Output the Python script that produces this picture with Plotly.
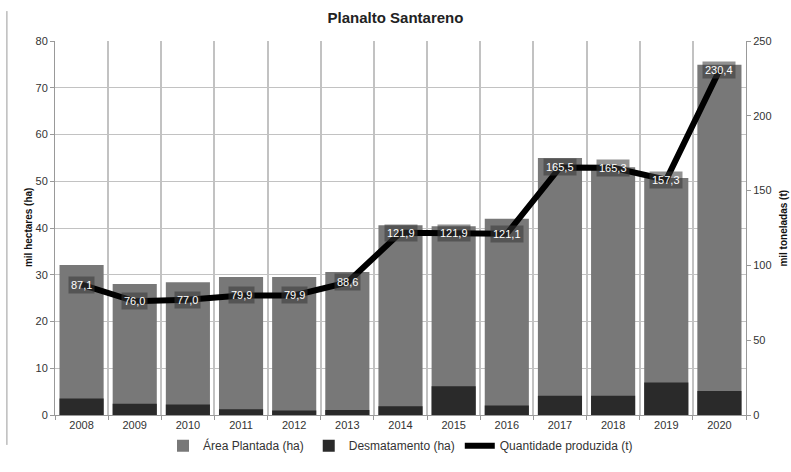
import plotly.graph_objects as go

# Planalto Santareno: planted area, deforestation and production by year
anos = ["2008", "2009", "2010", "2011", "2012", "2013", "2014",
        "2015", "2016", "2017", "2018", "2019", "2020"]
area_plantada = [32.1, 28.0, 28.4, 29.5, 29.5, 30.6, 40.6,
                 40.4, 42.0, 55.0, 53.0, 50.7, 74.9]
desmatamento = [3.55, 2.4, 2.25, 1.25, 0.95, 1.05, 1.85,
                6.15, 2.05, 4.1, 4.1, 6.95, 5.15]
quantidade = [87.1, 76.0, 77.0, 79.9, 79.9, 88.6, 121.9,
              121.9, 121.1, 165.5, 165.3, 157.3, 230.4]

FONT = "Liberation Sans, Arial, sans-serif"
GRID = "#c2c2c2"
AXIS = "#999999"
TXT = "#333333"

x = [int(a) for a in anos]
limites = [v - 0.5 for v in x] + [x[-1] + 0.5]

fig = go.Figure()
fig.add_trace(go.Bar(x=x, y=area_plantada, name="Área Plantada (ha)",
                     marker=dict(color="#787878", line=dict(width=0))))
fig.add_trace(go.Bar(x=x, y=desmatamento, name="Desmatamento (ha)",
                     marker=dict(color="#2a2a2a", line=dict(width=0))))
fig.add_trace(go.Scatter(x=x, y=quantidade, name="Quantidade produzida (t)",
                         yaxis="y2", mode="lines",
                         line=dict(color="#000000", width=6)))

# value boxes centred on each production point
for xv, q in zip(x, quantidade):
    fig.add_annotation(x=xv, y=q, yref="y2", text=f"{q:.1f}".replace(".", ","),
                       showarrow=False, bgcolor="rgba(55,55,55,0.55)",
                       borderpad=2, font=dict(family=FONT, size=11, color="#ffffff"))

# axis titles
fig.add_annotation(xref="paper", yref="paper", x=-0.039, y=0.5,
                   xanchor="center", yanchor="middle",
                   text="<b>mil hectares (ha)</b>", textangle=-90, showarrow=False,
                   font=dict(family=FONT, size=10, color="#111111"))
fig.add_annotation(xref="paper", yref="paper", x=1.053, y=0.5,
                   xanchor="center", yanchor="middle",
                   text="<b>mil toneladas (t)</b>", textangle=-90, showarrow=False,
                   font=dict(family=FONT, size=10, color="#111111"))

# outer frame line on the left
fig.add_shape(type="line", xref="paper", yref="paper",
              x0=-0.0696, x1=-0.0696, y0=-0.08, y1=1.08,
              line=dict(color="#9a9a9a", width=1))

fig.update_layout(
    width=791, height=472,
    margin=dict(l=55, r=45, t=41, b=42),
    paper_bgcolor="white", plot_bgcolor="white",
    barmode="overlay", bargap=0.17,
    title=dict(text="<b>Planalto Santareno</b>", x=0.5, xanchor="center",
               y=1 - 18 / 472, yanchor="middle", yref="container",
               font=dict(family=FONT, size=15, color="#222222")),
    font=dict(family=FONT, size=11, color=TXT),
    xaxis=dict(range=[limites[0], limites[-1]], tickmode="array",
               tickvals=x, ticktext=anos, ticks="", showgrid=False,
               zeroline=False, showline=True, linecolor=AXIS,
               tickfont=dict(family=FONT, size=11, color=TXT),
               minor=dict(tickmode="array", tickvals=limites, showgrid=True,
                          gridcolor=GRID, gridwidth=1.6, ticks="outside",
                          ticklen=4, tickcolor=AXIS)),
    yaxis=dict(range=[0, 80], dtick=10, showgrid=True, gridcolor=GRID,
               gridwidth=1.4, ticks="outside", ticklen=4, tickcolor=AXIS,
               showline=True, linecolor=AXIS, zeroline=False,
               tickfont=dict(family=FONT, size=11, color=TXT)),
    yaxis2=dict(range=[0, 250], dtick=50, overlaying="y", side="right",
                showgrid=False, ticks="outside", ticklen=4, tickcolor=AXIS,
                showline=True, linecolor=AXIS, zeroline=False,
                tickfont=dict(family=FONT, size=11, color=TXT)),
    legend=dict(orientation="h", x=0.5, xanchor="center", y=-0.082,
                yanchor="middle", font=dict(family=FONT, size=12, color=TXT),
                itemwidth=30, traceorder="normal"),
    showlegend=True,
)

fig.write_html("out.html")
